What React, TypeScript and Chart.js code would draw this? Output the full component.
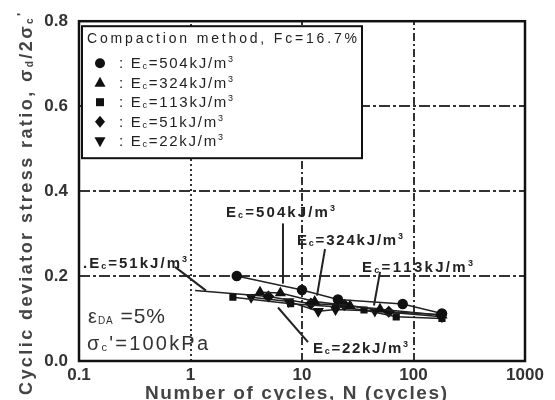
import React, { useEffect, useRef } from "react";
import { Chart, registerables } from "chart.js";

Chart.register(...registerables);

// ---- data ----
const cyclesEc504 = [2.6, 10, 21, 80, 180];
const ratioEc504 = [0.2, 0.167, 0.145, 0.134, 0.112];
const cyclesEc324 = [4.2, 6.4, 13, 27, 50, 180];
const ratioEc324 = [0.162, 0.16, 0.14, 0.13, 0.122, 0.108];
const cyclesEc113 = [2.4, 7.9, 20, 36, 70, 180];
const ratioEc113 = [0.15, 0.135, 0.128, 0.12, 0.104, 0.1];
const cyclesEc51 = [1.1, 5.0, 12, 24, 60, 175];
const ratioEc51 = [0.166, 0.152, 0.135, 0.132, 0.116, 0.109];
const cyclesEc22 = [3.5, 7.6, 14, 20, 45, 180];
const ratioEc22 = [0.15, 0.14, 0.117, 0.121, 0.118, 0.104];

const energyLabels = ["504", "324", "113", "51", "22"];
const xTickValues = [0.1, 1, 10, 100, 1000];
const yMin = 0;
const yMax = 0.8;
const yStep = 0.2;
const hGridValues = [0.2, 0.4, 0.6];
const vGridValues = [1, 10, 100];

const legendTitle = "Compaction method, Fc=16.7%";
const xTitle = "Number of cycles, N (cycles)";

// annotation labels: text anchor (N, ratio) and leader line ends
const annoEnergy = ["504", "324", "113", "51", "22"];
const annoPrefix = ["", "", "", ".", ""];
const annoTextN = [2.08, 9.02, 34.5, 0.1086, 12.55];
const annoTextR = [0.338, 0.273, 0.21, 0.219, 0.0187];
const annoWidth = [109, 106, 111, 104, 95];
const leaderN1 = [6.75, 16.08, 50.1, 0.726, 11.32];
const leaderR1 = [0.324, 0.2636, 0.21, 0.2216, 0.0443];
const leaderN2 = [6.75, 13.63, 44.2, 1.377, 6.09];
const leaderR2 = [0.182, 0.154, 0.1306, 0.1656, 0.126];

const condTextN = [0.1205, 0.118];
const condTextR = [0.0886, 0.0257];

const cyclesList = [cyclesEc504, cyclesEc324, cyclesEc113, cyclesEc51, cyclesEc22];
const ratioList = [ratioEc504, ratioEc324, ratioEc113, ratioEc51, ratioEc22];

// ---- styles ----
const pointStyles = ["circle", "triangle", "rect", "rectRot", "triangle"];
const pointRotations = [0, 0, 0, 0, 180];
const pointRadii = [4.5, 5, 4, 5, 5];
const hiddenFirstPoint = [false, false, false, true, false];
const SANS = "'Liberation Sans', Arial, sans-serif";

type Part = { t: string; font: string; dy?: number };

function measureParts(ctx: CanvasRenderingContext2D, parts: Part[]) {
  let w = 0;
  let n = 0;
  for (const p of parts) {
    ctx.font = p.font;
    for (const ch of p.t) {
      w += ctx.measureText(ch).width;
      n++;
    }
  }
  return { w, n };
}

function drawParts(ctx: CanvasRenderingContext2D, x: number, y: number, parts: Part[], spacing: number) {
  let cx = x;
  for (const p of parts) {
    ctx.font = p.font;
    for (const ch of p.t) {
      ctx.fillText(ch, cx, y + (p.dy || 0));
      cx += ctx.measureText(ch).width + spacing;
    }
  }
}

function drawFit(ctx: CanvasRenderingContext2D, x: number, y: number, parts: Part[], target: number) {
  const { w, n } = measureParts(ctx, parts);
  const sp = n > 1 ? (target - w) / (n - 1) : 0;
  drawParts(ctx, x, y, parts, sp);
  return sp;
}

function energyParts(prefix: string, e: string, big: string, small: string): Part[] {
  return [
    { t: prefix + "E", font: big },
    { t: "c", font: small, dy: 1 },
    { t: "=" + e + "kJ/m", font: big },
    { t: "3", font: small, dy: -6 },
  ];
}

function drawMarker(ctx: CanvasRenderingContext2D, kind: number, x: number, y: number) {
  ctx.beginPath();
  if (kind === 0) {
    ctx.arc(x, y, 5, 0, Math.PI * 2);
  } else if (kind === 1) {
    ctx.moveTo(x, y - 6);
    ctx.lineTo(x + 5.5, y + 4);
    ctx.lineTo(x - 5.5, y + 4);
  } else if (kind === 2) {
    ctx.rect(x - 4, y - 4, 8, 8);
  } else if (kind === 3) {
    ctx.moveTo(x, y - 6);
    ctx.lineTo(x + 5, y);
    ctx.lineTo(x, y + 6);
    ctx.lineTo(x - 5, y);
  } else {
    ctx.moveTo(x, y + 6);
    ctx.lineTo(x + 5.5, y - 4);
    ctx.lineTo(x - 5.5, y - 4);
  }
  ctx.closePath();
  ctx.fill();
}

const gridPlugin = {
  id: "customGrid",
  beforeDatasetsDraw(chart: any) {
    const { ctx, chartArea: a, scales } = chart;
    const x = scales.x;
    const y = scales.y;
    ctx.save();
    ctx.strokeStyle = "#333";
    ctx.lineWidth = 2;
    ctx.setLineDash([11, 3, 3, 3]);
    for (const v of hGridValues) {
      const py = Math.round(y.getPixelForValue(v));
      ctx.beginPath();
      ctx.moveTo(a.left, py);
      ctx.lineTo(a.right, py);
      ctx.stroke();
    }
    for (const v of vGridValues) {
      ctx.setLineDash(v === 1 ? [2, 3] : [8, 3, 2, 3]);
      const px = Math.round(x.getPixelForValue(v));
      ctx.beginPath();
      ctx.moveTo(px, a.bottom);
      ctx.lineTo(px, a.top);
      ctx.stroke();
    }
    ctx.restore();
  },
};

const overlayPlugin = {
  id: "overlay",
  afterDatasetsDraw(chart: any) {
    const { ctx, chartArea: a, scales } = chart;
    const x = scales.x;
    const y = scales.y;
    ctx.save();

    // legend box
    const bx = a.left + 3;
    const by = a.top + 5;
    const bw = 280;
    const bh = 132;
    ctx.fillStyle = "#fff";
    ctx.fillRect(bx, by, bw, bh);
    ctx.strokeStyle = "#111";
    ctx.lineWidth = 2;
    ctx.strokeRect(bx, by, bw, bh);

    ctx.fillStyle = "#222";
    ctx.textBaseline = "alphabetic";
    drawFit(ctx, bx + 5, by + 17, [{ t: legendTitle, font: `14px ${SANS}` }], 270);
    const rowBase = [42, 61.5, 81, 100.5, 120];
    let sp = 0;
    energyLabels.forEach((e, i) => {
      ctx.fillStyle = "#111";
      drawMarker(ctx, i, bx + 18, by + rowBase[i] - 5);
      ctx.fillStyle = "#222";
      const parts = [{ t: ": ", font: `15px ${SANS}` } as Part].concat(
        energyParts("", e, `15px ${SANS}`, `9px ${SANS}`)
      );
      if (i === 0) sp = drawFit(ctx, bx + 37, by + rowBase[i], parts, 114);
      else drawParts(ctx, bx + 37, by + rowBase[i], parts, sp);
    });

    // annotations
    ctx.fillStyle = "#222";
    ctx.strokeStyle = "#222";
    ctx.lineWidth = 2;
    ctx.setLineDash([]);
    annoEnergy.forEach((e, i) => {
      const tx = x.getPixelForValue(annoTextN[i]);
      const ty = y.getPixelForValue(annoTextR[i]);
      drawFit(ctx, tx, ty, energyParts(annoPrefix[i], e, `bold 15px ${SANS}`, `bold 9px ${SANS}`), annoWidth[i]);
      ctx.beginPath();
      ctx.moveTo(x.getPixelForValue(leaderN1[i]), y.getPixelForValue(leaderR1[i]));
      ctx.lineTo(x.getPixelForValue(leaderN2[i]), y.getPixelForValue(leaderR2[i]));
      ctx.stroke();
    });

    // test conditions
    ctx.fillStyle = "#333";
    drawFit(
      ctx,
      x.getPixelForValue(condTextN[0]),
      y.getPixelForValue(condTextR[0]),
      [
        { t: "ε", font: `20px ${SANS}` },
        { t: "DA", font: `10px ${SANS}`, dy: 1 },
        { t: " =5%", font: `21px ${SANS}` },
      ],
      77
    );
    drawFit(
      ctx,
      x.getPixelForValue(condTextN[1]),
      y.getPixelForValue(condTextR[1]),
      [
        { t: "σ", font: `20px ${SANS}` },
        { t: "c", font: `11px ${SANS}`, dy: 1 },
        { t: "'=100kPa", font: `20px ${SANS}` },
      ],
      121
    );

    // plot frame
    ctx.strokeStyle = "#111";
    ctx.lineWidth = 2.5;
    ctx.strokeRect(a.left, a.top, a.right - a.left, a.bottom - a.top);
    ctx.restore();
  },
  afterDraw(chart: any) {
    const { ctx } = chart;
    ctx.save();
    ctx.fillStyle = "#444";
    ctx.textBaseline = "middle";
    // y title (rotated)
    ctx.translate(27, 395);
    ctx.rotate(-Math.PI / 2);
    drawFit(
      ctx,
      0,
      0,
      [
        { t: "Cyclic deviator stress ratio, σ", font: `bold 18px ${SANS}` },
        { t: "d", font: `bold 10px ${SANS}`, dy: 3 },
        { t: "/2σ", font: `bold 18px ${SANS}` },
        { t: "c", font: `bold 10px ${SANS}`, dy: 3 },
        { t: "'", font: `bold 13px ${SANS}`, dy: -5 },
      ],
      382
    );
    ctx.restore();
    ctx.save();
    ctx.fillStyle = "#444";
    ctx.textBaseline = "alphabetic";
    drawFit(ctx, 145, 399, [{ t: xTitle, font: `bold 19px ${SANS}` }], 302);
    ctx.restore();
  },
};

export default function App() {
  const ref = useRef<HTMLCanvasElement | null>(null);
  useEffect(() => {
    if (!ref.current) return;
    const datasets = energyLabels.map((e, i) => ({
      label: `Ec=${e}kJ/m3`,
      data: cyclesList[i].map((n, k) => ({ x: n, y: ratioList[i][k] })),
      borderColor: "#222",
      backgroundColor: "#111",
      borderWidth: 1.5,
      pointStyle: pointStyles[i] as any,
      pointRotation: pointRotations[i],
      pointRadius: (c: any) => (hiddenFirstPoint[i] && c.dataIndex === 0 ? 0 : pointRadii[i]),
      pointBackgroundColor: "#111",
      pointBorderColor: "#111",
      showLine: true,
      tension: 0,
    }));
    const chart = new Chart(ref.current, {
      type: "scatter",
      data: { datasets },
      options: {
        animation: false,
        responsive: false,
        devicePixelRatio: 1,
        layout: { padding: { left: 0, right: 30, top: 18, bottom: 0 } },
        plugins: { legend: { display: false }, tooltip: { enabled: false } },
        scales: {
          x: {
            type: "logarithmic",
            min: 0.1,
            max: 1000,
            grid: { display: false, drawTicks: false },
            border: { display: false },
            afterBuildTicks: (s: any) => {
              s.ticks = xTickValues.map((v) => ({ value: v }));
            },
            afterFit: (s: any) => {
              s.height = 39;
            },
            ticks: {
              autoSkip: false,
              maxRotation: 0,
              padding: 4,
              color: "#333",
              font: { family: SANS, size: 17, weight: "bold" },
              callback: (v: any) => String(v),
            },
          },
          y: {
            min: yMin,
            max: yMax,
            grid: { display: false, drawTicks: false },
            border: { display: false },
            afterFit: (s: any) => {
              s.width = 79;
            },
            ticks: {
              stepSize: yStep,
              padding: 11,
              color: "#333",
              font: { family: SANS, size: 17, weight: "bold" },
              callback: (v: any) => Number(v).toFixed(1),
            },
          },
        },
      },
      plugins: [gridPlugin, overlayPlugin],
    });
    return () => chart.destroy();
  }, []);
  return (
    <div style={{ position: "fixed", left: 0, top: 0, width: 555, height: 400, background: "#fff" }}>
      <canvas ref={ref} width={555} height={400} style={{ display: "block" }} />
    </div>
  );
}
